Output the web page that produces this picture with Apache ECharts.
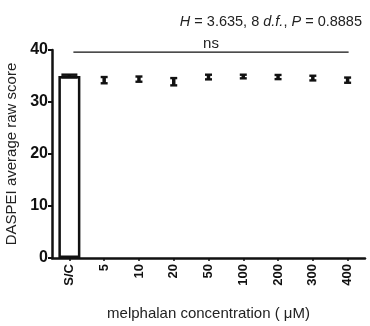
<!DOCTYPE html>
<html>
<head>
<meta charset="utf-8">
<script src="https://cdn.jsdelivr.net/npm/echarts@6/dist/echarts.min.js"></script>
<style>
  html, body { margin: 0; padding: 0; background: #fff; }
  #chart { width: 370px; height: 326px; }
</style>
</head>
<body>
<div id="chart"></div>
<script>
// Treatment groups (melphalan, µM) and mean DASPEI score with SEM
const categories = ['S/C', '5', '10', '20', '50', '100', '200', '300', '400'];
const controlMean = [35.0];
const means = [35.0, 34.2, 34.4, 33.9, 34.8, 34.9, 34.8, 34.6, 34.2];
const sem = [0.25, 0.6, 0.5, 0.7, 0.45, 0.35, 0.4, 0.45, 0.5];
const yTicks = [0, 10, 20, 30, 40];
const sigLabel = 'ns';
const sigLevel = 39.6;

const FONT = '"Liberation Sans", Arial, sans-serif';
const chart = echarts.init(document.getElementById('chart'), null, { renderer: 'canvas' });

const barData = categories.map((c, i) => (i < controlMean.length ? controlMean[i] : '-'));
const errData = means.map((m, i) => [i, m, sem[i]]);

function renderError(params, api) {
  const idx = api.value(0);
  const m = api.value(1);
  const e = api.value(2);
  const top = api.coord([idx, m + e]);
  const bot = api.coord([idx, m - e]);
  const isBar = idx < controlMean.length;
  const half = isBar ? 8 : 3.5;
  const style = { stroke: '#111', lineWidth: isBar ? 2.5 : 2.4 };
  return {
    type: 'group',
    children: [
      { type: 'line', shape: { x1: top[0], y1: top[1], x2: bot[0], y2: bot[1] }, style: { stroke: '#111', lineWidth: 3.5 } },
      { type: 'line', shape: { x1: top[0] - half, y1: top[1], x2: top[0] + half, y2: top[1] }, style },
      { type: 'line', shape: { x1: bot[0] - half, y1: bot[1], x2: bot[0] + half, y2: bot[1] }, style }
    ]
  };
}

chart.setOption({
  animation: false,
  backgroundColor: '#ffffff',
  grid: { left: 52, right: 5, top: 50, bottom: 68, containLabel: false, outerBoundsMode: 'none' },
  xAxis: {
    type: 'category',
    data: categories,
    boundaryGap: true,
    name: 'melphalan concentration ( \u03bcM)',
    nameLocation: 'middle',
    nameGap: 48,
    nameTextStyle: { fontFamily: FONT, fontSize: 15, color: '#222' },
    axisLine: { lineStyle: { color: '#111', width: 2.5 } },
    axisTick: { show: true, alignWithLabel: true, length: 3, lineStyle: { color: '#111', width: 1.5 } },
    axisLabel: { rotate: 90, margin: 6, fontFamily: FONT, fontSize: 13, fontWeight: 'bold', color: '#111' }
  },
  yAxis: {
    type: 'value',
    min: yTicks[0],
    max: yTicks[yTicks.length - 1],
    interval: 10,
    name: 'DASPEI average raw score',
    nameLocation: 'middle',
    nameGap: 33,
    nameTextStyle: { fontFamily: FONT, fontSize: 15, color: '#222' },
    axisLine: { show: true, lineStyle: { color: '#111', width: 2.5 } },
    axisTick: { show: true, length: 4, lineStyle: { color: '#111', width: 2 } },
    splitLine: { show: false },
    axisLabel: { margin: 4, fontFamily: FONT, fontSize: 16, fontWeight: 'bold', color: '#111' }
  },
  series: [
    {
      type: 'bar',
      data: barData,
      barWidth: 22,
      itemStyle: { color: '#ffffff', borderColor: '#111', borderWidth: 2.5 },
      z: 2
    },
    {
      type: 'custom',
      data: errData,
      renderItem: renderError,
      z: 3
    }
  ]
});

// Significance line and test statistic above the plot
function drawAnnotations() {
  const y = chart.convertToPixel({ yAxisIndex: 0 }, sigLevel);
  const x0 = chart.convertToPixel({ xAxisIndex: 0 }, categories[0]) + 4;
  const x1 = chart.convertToPixel({ xAxisIndex: 0 }, categories[categories.length - 1]) + 1;
  chart.setOption({
    graphic: [
      { type: 'line', shape: { x1: x0, y1: y, x2: x1, y2: y }, style: { stroke: '#111', lineWidth: 1.3 } },
      { type: 'text', x: (x0 + x1) / 2, y: y - 1, style: { text: sigLabel, font: '15px ' + FONT, fill: '#222', textAlign: 'center', textVerticalAlign: 'bottom' } },
      {
        type: 'text', x: 362, y: 22,
        style: {
          text: '{i|H} = 3.635, 8 {i|d.f.}, {i|P} = 0.8885',
          rich: { i: { fontStyle: 'italic', fontFamily: FONT, fontSize: 14.5, fill: '#222' } },
          fontFamily: FONT, fontSize: 14.5, fill: '#222',
          textAlign: 'right', textVerticalAlign: 'middle'
        }
      }
    ]
  });
}
drawAnnotations();
</script>
</body>
</html>
